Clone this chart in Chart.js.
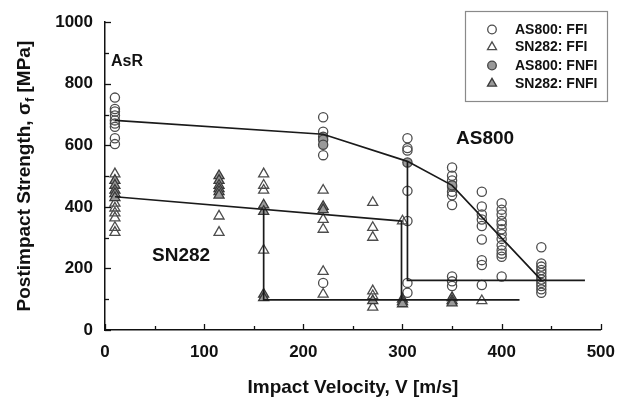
<!DOCTYPE html>
<html>
<head>
<meta charset="utf-8">
<script src="https://cdn.jsdelivr.net/npm/chart.js@4"></script>
<style>
html,body{margin:0;padding:0;background:#fff;}
#wrap{width:627px;height:401px;}
</style>
</head>
<body>
<div id="wrap"><canvas id="c" width="627" height="401"></canvas></div>
<script>
// ---- data (velocity [m/s], strength [MPa]) ----
const as800FFI_v = [10,10,10,10,10,10,10,10,10, 220,220,220,220, 305,305,305,305,305,305,305, 350,350,350,350,350,350,350,350,350,350, 380,380,380,380,380,380,380,380,380, 400,400,400,400,400,400,400,400,400,400,400,400,400, 440,440,440,440,440,440,440,440,440,440,440];
const as800FFI_s = [755,718,710,697,681,671,660,623,604, 691,644,568,153, 623,591,583,452,354,153,121, 528,501,486,465,449,438,406,174,158,143, 449,401,375,359,338,294,227,211,146, 412,391,375,354,343,327,311,296,275,259,248,238,174, 269,216,206,195,185,174,164,153,143,132,121];

const sn282FFI_v = [10,10,10,10,10,10,10, 115,115, 160,160,160,160, 220,220,220,220,220, 270,270,270,270,270,270, 300, 380];
const sn282FFI_s = [507,412,396,380,364,333,317, 370,317, 507,470,454,259, 454,359,327,190,116, 414,333,301,127,111,74, 354, 95];

const as800FNFI_v = [220,220,220, 305, 350];
const as800FNFI_s = [628,618,602, 544, 470];

const sn282FNFI_v = [10,10,10,10,10, 115,115,115,115,115,115, 160,160,160,160, 220,220, 270, 300,300,300, 350,350,350];
const sn282FNFI_s = [486,470,454,443,430, 501,486,470,459,449,438, 406,385,116,105, 401,391, 95, 100,92,85, 105,95,88];

// trend / transition lines
const as800Trend_v = [10,220,305,350,440];
const as800Trend_s = [681,636,548,470,162];
const sn282Trend_v = [10,300];
const sn282Trend_s = [433,354];
const sn282Drop160_v = [160,160,418];
const sn282Drop160_s = [392,98,98];
const sn282Drop300_v = [299,299];
const sn282Drop300_s = [354,98];
const as800Drop305_v = [305,305,484];
const as800Drop305_s = [548,161,161];

const xTicks = [0,100,200,300,400,500];
const yTicks = [0,200,400,600,800,1000];

const legendLabels = ['AS800: FFI','SN282: FFI','AS800: FNFI','SN282: FNFI'];

function pts(vs, ss){ return vs.map((v,i)=>({x:v,y:ss[i]})); }

const FONT = "Arial, 'Liberation Sans', sans-serif";
const STROKE = '#4d4d4d';
const GREY = '#999999';
const LINE = '#1a1a1a';

function lineDS(vs, ss){
  return {type:'scatter', data:pts(vs,ss), showLine:true, borderColor:LINE, borderWidth:1.7,
          pointRadius:0, pointHoverRadius:0, fill:false, order:0};
}

const markerDS = [
  {label:legendLabels[0], data:pts(as800FFI_v,as800FFI_s), pointStyle:'circle', pointRadius:4.6,
   backgroundColor:'rgba(255,255,255,0)', borderColor:STROKE, borderWidth:1.3, order:2},
  {label:legendLabels[1], data:pts(sn282FFI_v,sn282FFI_s), pointStyle:'triangle', pointRadius:5.8,
   backgroundColor:'rgba(255,255,255,0)', borderColor:STROKE, borderWidth:1.3, order:2},
  {label:legendLabels[2], data:pts(as800FNFI_v,as800FNFI_s), pointStyle:'circle', pointRadius:4.6,
   backgroundColor:GREY, borderColor:'#444', borderWidth:1.3, order:1},
  {label:legendLabels[3], data:pts(sn282FNFI_v,sn282FNFI_s), pointStyle:'triangle', pointRadius:5.8,
   backgroundColor:GREY, borderColor:'#3a3a3a', borderWidth:1.3, order:1}
];

const datasets = [
  lineDS(as800Trend_v, as800Trend_s),
  lineDS(sn282Trend_v, sn282Trend_s),
  lineDS(sn282Drop160_v, sn282Drop160_s),
  lineDS(sn282Drop300_v, sn282Drop300_s),
  lineDS(as800Drop305_v, as800Drop305_s),
  ...markerDS
];

const decorPlugin = {
  id:'decor',
  afterDraw(chart){
    const ctx = chart.ctx;
    const xs = chart.scales.x, ys = chart.scales.y;
    ctx.save();
    // inward ticks
    ctx.strokeStyle = '#111'; ctx.lineWidth = 1.3;
    for(let v=0; v<=1000; v+=100){
      const y = Math.round(ys.getPixelForValue(v))+0.5;
      const len = (v%200===0)?6:4;
      ctx.beginPath(); ctx.moveTo(xs.left, y); ctx.lineTo(xs.left+len, y); ctx.stroke();
    }
    for(let v=0; v<=500; v+=50){
      const x = Math.round(xs.getPixelForValue(v))+0.5;
      const len = (v%100===0)?6:4;
      ctx.beginPath(); ctx.moveTo(x, ys.bottom); ctx.lineTo(x, ys.bottom-len); ctx.stroke();
    }
    // annotations
    ctx.fillStyle = '#111';
    ctx.textBaseline = 'middle'; ctx.textAlign = 'left';
    ctx.font = 'bold 16px '+FONT;
    ctx.fillText('AsR', 111, 62);
    ctx.font = 'bold 19px '+FONT;
    ctx.fillText('AS800', 456, 139);
    ctx.fillText('SN282', 152, 256);

    // x title
    ctx.font = 'bold 19px '+FONT;
    ctx.textAlign = 'center'; ctx.textBaseline = 'alphabetic';
    ctx.fillText('Impact Velocity, V [m/s]', (xs.left+xs.right)/2, 393);

    // y title with subscript
    ctx.save();
    ctx.translate(30, (ys.top+ys.bottom)/2);
    ctx.rotate(-Math.PI/2);
    const parts = [
      {t:'Postimpact Strength, σ', f:'bold 19px '+FONT, dy:0},
      {t:'f', f:'bold 13px '+FONT, dy:4},
      {t:' [MPa]', f:'bold 19px '+FONT, dy:0}
    ];
    let total = 0;
    parts.forEach(p=>{ctx.font=p.f; p.w=ctx.measureText(p.t).width; total+=p.w;});
    let cx = -total/2;
    ctx.textAlign='left'; ctx.textBaseline='alphabetic';
    parts.forEach(p=>{ctx.font=p.f; ctx.fillText(p.t, cx, p.dy); cx+=p.w;});
    ctx.restore();

    // legend
    const bx = 465.5, by = 11.5, bw = 142, bh = 90;
    ctx.fillStyle = '#fff';
    ctx.fillRect(bx, by, bw, bh);
    ctx.strokeStyle = '#8a8a8a'; ctx.lineWidth = 1.2;
    ctx.strokeRect(bx, by, bw, bh);
    const rows = [29.5, 47, 65.5, 83.5];
    markerDS.forEach((ds,i)=>{
      ctx.fillStyle = ds.backgroundColor; ctx.strokeStyle = ds.borderColor; ctx.lineWidth = ds.borderWidth;
      Chart.helpers.drawPoint(ctx, {pointStyle:ds.pointStyle, radius:ds.pointStyle==='circle'?4.3:5.2, rotation:0, borderWidth:ds.borderWidth}, 492, rows[i]);
      ctx.fillStyle = '#111';
      ctx.font = 'bold 14px '+FONT;
      ctx.textAlign='left'; ctx.textBaseline='middle';
      ctx.fillText(ds.label, 515, rows[i]+0.5);
    });
    ctx.restore();
  }
};

new Chart(document.getElementById('c'), {
  type:'scatter',
  data:{datasets},
  options:{
    responsive:false,
    animation:false,
    events:[],
    layout:{padding:{top:15,right:25,bottom:0,left:0}},
    plugins:{legend:{display:false}, tooltip:{enabled:false}},
    scales:{
      x:{
        type:'linear', min:0, max:500,
        afterBuildTicks(s){ s.ticks = xTicks.map(v=>({value:v})); },
        afterFit(s){ s.height = 71; },
        grid:{drawOnChartArea:false, drawTicks:false},
        border:{display:true, color:'#111', width:1.5},
        ticks:{padding:12, color:'#111', font:{family:FONT, size:17, weight:'bold'}, callback:(v)=>String(v)}
      },
      y:{
        type:'linear', min:0, max:1000,
        afterBuildTicks(s){ s.ticks = yTicks.map(v=>({value:v})); },
        afterFit(s){ s.width = 105; },
        grid:{drawOnChartArea:false, drawTicks:false},
        border:{display:true, color:'#111', width:1.5},
        ticks:{padding:12, color:'#111', font:{family:FONT, size:17, weight:'bold'}, callback:(v)=>String(v)}
      }
    }
  },
  plugins:[decorPlugin]
});
</script>
</body>
</html>
